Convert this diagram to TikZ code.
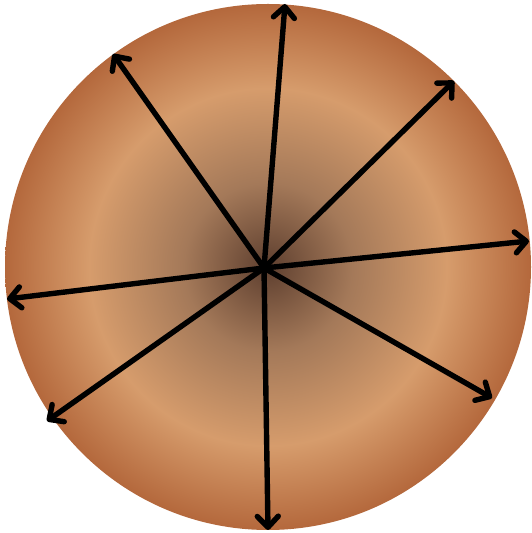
\documentclass[tikz,border=0pt]{standalone}
\usetikzlibrary{arrows.meta}
\definecolor{ccenter}{HTML}{5E3F2F}
\definecolor{cmid}{HTML}{A47959}
\definecolor{cpeak}{HTML}{D69C6C}
\definecolor{cedge}{HTML}{B4683C}
\pgfdeclareradialshading{ballshade}{\pgfpoint{0bp}{0bp}}{%
  color(0bp)=(ccenter); color(8bp)=(cmid); color(17bp)=(cpeak); color(25bp)=(cedge); color(50bp)=(cedge)}
\tikzset{
  ray/.style={line width=5.4pt, line cap=round, line join=round,
    -{Straight Barb[length=11pt, width=21pt, line cap=round, line join=round]}},
}
\begin{document}
\begin{tikzpicture}[x=1pt,y=1pt]
\useasboundingbox (0,0) rectangle (531,533);
\shade[shading=ballshade] (268,266) circle (263);
\coordinate (c) at (264,265);
\coordinate (top) at (285,529);
\coordinate (ul) at (113,479);
\coordinate (ur) at (454,452);
\coordinate (r) at (529,292);
\coordinate (l) at (7,234);
\coordinate (ll) at (47,112);
\coordinate (b) at (268,3);
\coordinate (lr) at (492,135);
\foreach \t in {top,ul,ur,r,l,ll,b,lr} \draw[ray] (c) -- (\t);
\end{tikzpicture}
\end{document}
